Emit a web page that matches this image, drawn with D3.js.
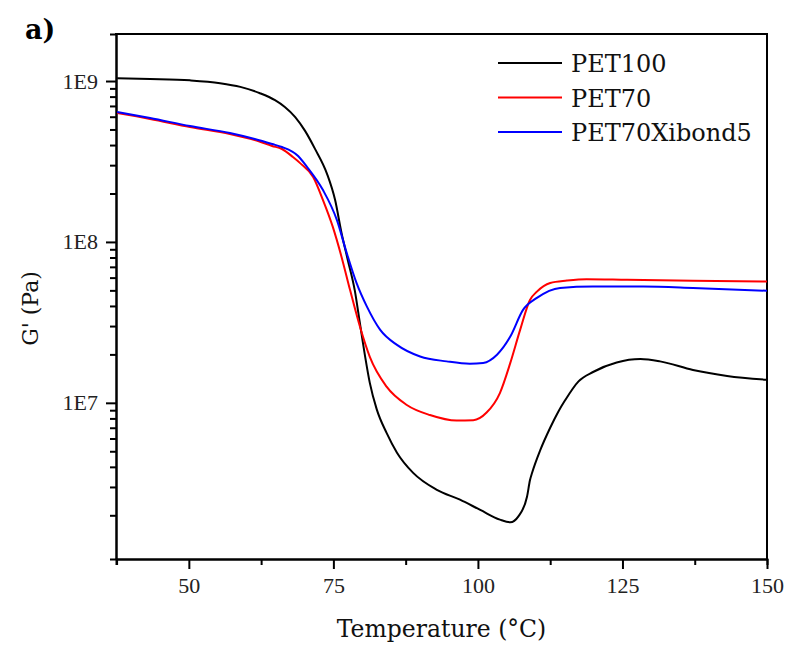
<!DOCTYPE html>
<html>
<head>
<meta charset="utf-8">
<script src="https://cdn.jsdelivr.net/npm/d3@7"></script>
<style>
  body { margin: 0; background: #fff; }
</style>
</head>
<body>
<script>
// PET100 (black)
const pet100Temp = [37.6, 43.3, 50.2, 55.4, 58.9, 62.3, 64.9, 66.6, 68.4, 70.1, 71.8, 73.9, 75.3, 76.4, 77.5, 78.7, 79.6, 80.5, 81.3, 82.5, 84.2, 86.0, 88.8, 92.9, 96.9, 100.4, 103.8, 105.6, 107.0, 108.5, 109.0, 109.4, 110.8, 112.5, 113.9, 115.1, 117.4, 120.0, 124.0, 128.1, 131.5, 137.2, 143.1, 150];
const pet100G = [1.04e9, 1.03e9, 1.01e9, 9.7e8, 9.2e8, 8.4e8, 7.6e8, 6.9e8, 5.97e8, 4.9e8, 3.8e8, 2.65e8, 1.82e8, 1.14e8, 7.7e7, 5.0e7, 3.1e7, 1.93e7, 1.33e7, 9.1e6, 6.5e6, 4.9e6, 3.67e6, 2.88e6, 2.5e6, 2.16e6, 1.88e6, 1.81e6, 1.97e6, 2.62e6, 3.3e6, 3.7e6, 5.1e6, 7.0e6, 8.8e6, 1.04e7, 1.36e7, 1.56e7, 1.78e7, 1.87e7, 1.81e7, 1.6e7, 1.47e7, 1.39e7];

// PET70 (red)
const pet70Temp = [37.6, 43.3, 50.2, 57.1, 61.4, 64.4, 66.1, 68.0, 69.2, 71.5, 73.2, 74.9, 76.4, 77.9, 79.6, 81.3, 84.2, 87.7, 91.7, 96.3, 99.2, 101.5, 103.8, 105.6, 107.3, 109.0, 110.2, 112.5, 115.4, 118.8, 125.8, 137.2, 150];
const pet70G = [6.32e8, 5.81e8, 5.18e8, 4.69e8, 4.3e8, 3.95e8, 3.78e8, 3.37e8, 3.1e8, 2.53e8, 1.82e8, 1.24e8, 8.1e7, 5.0e7, 2.97e7, 1.93e7, 1.26e7, 9.7e6, 8.4e6, 7.76e6, 7.8e6, 8.7e6, 1.15e7, 1.77e7, 2.84e7, 4.36e7, 4.91e7, 5.56e7, 5.75e7, 5.87e7, 5.81e7, 5.73e7, 5.67e7];

// PET70Xibond5 (blue)
const xibondTemp = [37.6, 43.3, 50.2, 57.1, 61.4, 64.4, 66.1, 68.9, 70.4, 73.2, 75.6, 77.3, 79.0, 80.8, 83.1, 86.0, 90.0, 94.6, 98.6, 100.9, 103.3, 105.6, 107.8, 110.2, 114.2, 119.9, 128.6, 137.2, 150];
const xibondG = [6.42e8, 5.89e8, 5.25e8, 4.75e8, 4.36e8, 4.06e8, 3.89e8, 3.42e8, 2.94e8, 2.1e8, 1.37e8, 8.55e7, 5.56e7, 3.96e7, 2.84e7, 2.29e7, 1.94e7, 1.81e7, 1.75e7, 1.77e7, 1.99e7, 2.58e7, 3.78e7, 4.49e7, 5.18e7, 5.28e7, 5.28e7, 5.18e7, 4.97e7];

const seriesNames = ["PET100", "PET70", "PET70Xibond5"];
const seriesColors = ["#000000", "#ff0000", "#0000ff"];
const xMajorTicks = [50, 75, 100, 125, 150];
const xMinorTicks = [37.5, 62.5, 87.5, 112.5, 137.5];
const yMajorTicks = [1e7, 1e8, 1e9];
const yTickLabels = ["1E7", "1E8", "1E9"];

const margin = { top: 34, right: 21, bottom: 86, left: 116 };
const width = 788 - margin.left - margin.right;
const height = 645 - margin.top - margin.bottom;

const series = [
  pet100Temp.map((t, i) => ({ t, g: pet100G[i] })),
  pet70Temp.map((t, i) => ({ t, g: pet70G[i] })),
  xibondTemp.map((t, i) => ({ t, g: xibondG[i] })),
];

const svgRoot = d3
  .select("body")
  .append("svg")
  .attr("width", width + margin.left + margin.right)
  .attr("height", height + margin.top + margin.bottom);

const svg = svgRoot
  .append("g")
  .attr("transform", "translate(" + margin.left + "," + margin.top + ")");

const x = d3.scaleLinear().domain([37.4, 150]).range([0, width]);
const y = d3.scaleLog().domain([1.07e6, 1.96e9]).range([height, 0]);

// y minor ticks: all log ticks that are not a power of ten
const yMinorTicks = y.ticks().filter((v) => Math.abs(Math.log10(v) % 1) > 1e-6);

const tickFont = "'Liberation Serif', serif";

function styleAxis(g) {
  g.selectAll("path").attr("stroke-width", 2);
  g.selectAll("line").attr("stroke-width", 2);
  g.selectAll("text").attr("font-family", tickFont).attr("font-size", 22).attr("fill", "#222");
}

// x axis
svg
  .append("g")
  .attr("transform", "translate(0," + height + ")")
  .call(d3.axisBottom(x).tickValues(xMinorTicks).tickSize(6).tickFormat(""))
  .call(styleAxis);

svg
  .append("g")
  .attr("transform", "translate(0," + height + ")")
  .call(d3.axisBottom(x).tickValues(xMajorTicks).tickSize(10).tickSizeOuter(0).tickPadding(8).tickFormat(d3.format("d")))
  .call(styleAxis);

// y axis
svg
  .append("g")
  .call(d3.axisLeft(y).tickValues(yMinorTicks).tickSize(6).tickFormat(""))
  .call(styleAxis);

svg
  .append("g")
  .call(
    d3
      .axisLeft(y)
      .tickValues(yMajorTicks)
      .tickSize(10)
      .tickSizeOuter(0)
      .tickPadding(8)
      .tickFormat((d, i) => yTickLabels[i])
  )
  .call(styleAxis);

// top and right frame
svg
  .append("line")
  .attr("x1", -1)
  .attr("x2", width + 1)
  .attr("y1", 0)
  .attr("y2", 0)
  .attr("stroke", "#000")
  .attr("stroke-width", 2);

svg
  .append("line")
  .attr("x1", width)
  .attr("x2", width)
  .attr("y1", 0)
  .attr("y2", height)
  .attr("stroke", "#000")
  .attr("stroke-width", 2);

const line = d3
  .line()
  .x((d) => x(d.t))
  .y((d) => y(d.g))
  .curve(d3.curveMonotoneX);

svg
  .selectAll(".curve")
  .data(series)
  .enter()
  .append("path")
  .attr("class", "curve")
  .attr("d", line)
  .attr("fill", "none")
  .attr("stroke", (d, i) => seriesColors[i])
  .attr("stroke-width", 2);

// legend
const legend = svg.append("g").attr("transform", "translate(382,29)");

legend
  .selectAll("line")
  .data(seriesNames)
  .enter()
  .append("line")
  .attr("x1", 0)
  .attr("x2", 64)
  .attr("y1", (d, i) => i * 34.5)
  .attr("y2", (d, i) => i * 34.5)
  .attr("stroke", (d, i) => seriesColors[i])
  .attr("stroke-width", 2);

legend
  .selectAll("text")
  .data(seriesNames)
  .enter()
  .append("text")
  .attr("x", 73)
  .attr("y", (d, i) => i * 34.5 + 9)
  .style("font-family", "'DejaVu Serif', serif")
  .style("font-size", "24px")
  .attr("fill", "#111")
  .text((d) => d);

// axis titles
svg
  .append("text")
  .attr("x", width / 2)
  .attr("y", height + 78)
  .attr("text-anchor", "middle")
  .style("font-family", "'DejaVu Serif', serif")
  .style("font-size", "23.5px")
  .attr("fill", "#111")
  .text("Temperature (°C)");

svg
  .append("text")
  .attr("transform", "rotate(-90)")
  .attr("x", -height / 2 - 12)
  .attr("y", -78)
  .attr("text-anchor", "middle")
  .style("font-family", "'DejaVu Serif', serif")
  .style("font-size", "22px")
  .attr("fill", "#111")
  .text("G' (Pa)");

svgRoot
  .append("text")
  .attr("x", 25)
  .attr("y", 39)
  .style("font-family", "'DejaVu Serif', serif")
  .style("font-size", "27px")
  .style("font-weight", "bold")
  .text("a)");
</script>
</body>
</html>
